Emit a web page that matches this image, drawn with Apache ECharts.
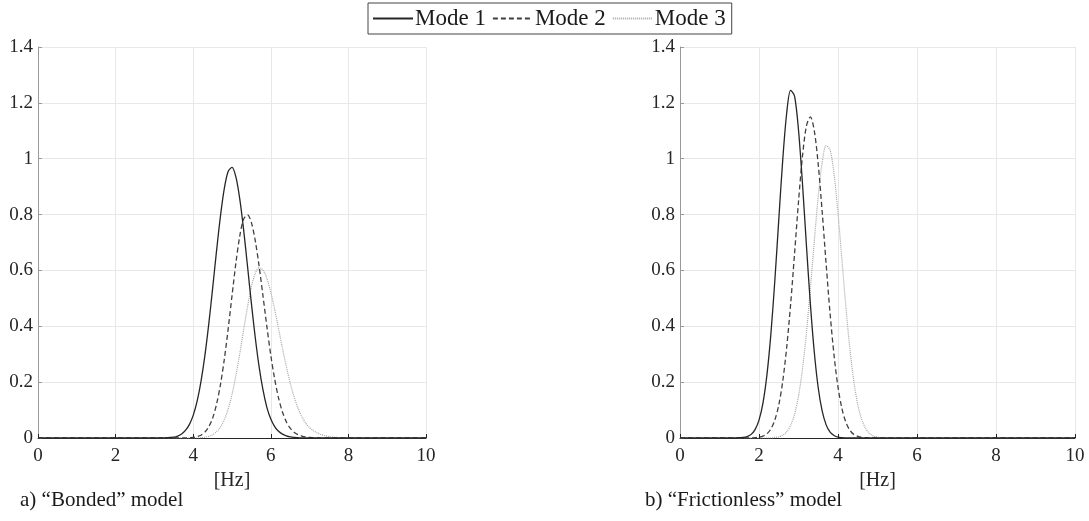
<!DOCTYPE html>
<html>
<head>
<meta charset="utf-8">
<title>Mode spectra</title>
<script src="https://cdn.jsdelivr.net/npm/echarts@6/dist/echarts.min.js"></script>
<style>
  html, body { margin: 0; padding: 0; background: #fff; }
  #chart { width: 1089px; height: 521px; }
</style>
</head>
<body>
<div id="chart"></div>
<script>
// values: [frequency Hz, amplitude]
const modeNames = ['Mode 1', 'Mode 2', 'Mode 3']
const xTicks = [0, 2, 4, 6, 8, 10]
const yTicks = [0, 0.2, 0.4, 0.6, 0.8, 1, 1.2, 1.4]
const captions = ['a) \u201cBonded\u201d model', 'b) \u201cFrictionless\u201d model']

const bondedMode1 = [[0, 0], [3.2, 0], [3.3, 0.001], [3.4, 0.002], [3.5, 0.003], [3.6, 0.007], [3.7, 0.014], [3.8, 0.027],
  [3.9, 0.048], [4.0, 0.081], [4.1, 0.131], [4.2, 0.202], [4.3, 0.294], [4.4, 0.407], [4.5, 0.535], [4.6, 0.668],
  [4.7, 0.792], [4.8, 0.892], [4.9, 0.954], [5.0, 0.969], [5.1, 0.935], [5.2, 0.856], [5.3, 0.745], [5.4, 0.615],
  [5.5, 0.482], [5.6, 0.359], [5.7, 0.254], [5.8, 0.171], [5.9, 0.109], [6.0, 0.068], [6.1, 0.041], [6.2, 0.024],
  [6.3, 0.014], [6.4, 0.008], [6.5, 0.004], [6.6, 0.002], [6.7, 0.001], [6.8, 0], [10, 0]]
const bondedMode2 = [[0, 0], [3.8, 0], [3.9, 0.001], [4.0, 0.002], [4.1, 0.005], [4.2, 0.010], [4.3, 0.021], [4.4, 0.040],
  [4.5, 0.071], [4.6, 0.120], [4.7, 0.189], [4.8, 0.280], [4.9, 0.389], [5.0, 0.509], [5.1, 0.626], [5.2, 0.723],
  [5.3, 0.784], [5.4, 0.799], [5.5, 0.771], [5.6, 0.706], [5.7, 0.614], [5.8, 0.507], [5.9, 0.398], [6.0, 0.296],
  [6.1, 0.211], [6.2, 0.143], [6.3, 0.093], [6.4, 0.058], [6.5, 0.035], [6.6, 0.021], [6.7, 0.012], [6.8, 0.007],
  [6.9, 0.004], [7.0, 0.002], [7.1, 0.001], [7.2, 0], [10, 0]]
const bondedMode3 = [[0, 0], [4.1, 0], [4.2, 0.001], [4.3, 0.003], [4.4, 0.006], [4.5, 0.012], [4.6, 0.022], [4.7, 0.039],
  [4.8, 0.065], [4.9, 0.103], [5.0, 0.156], [5.1, 0.223], [5.2, 0.302], [5.3, 0.387], [5.4, 0.470], [5.5, 0.541],
  [5.6, 0.590], [5.7, 0.610], [5.8, 0.601], [5.9, 0.571], [6.0, 0.522], [6.1, 0.460], [6.2, 0.391], [6.3, 0.322],
  [6.4, 0.256], [6.5, 0.197], [6.6, 0.147], [6.7, 0.107], [6.8, 0.076], [6.9, 0.053], [7.0, 0.037], [7.1, 0.026],
  [7.2, 0.018], [7.3, 0.012], [7.4, 0.008], [7.5, 0.005], [7.6, 0.003], [7.7, 0.002], [7.8, 0.001], [7.9, 0], [10, 0]]

const frictionlessMode1 = [[0, 0], [1.4, 0], [1.5, 0.001], [1.6, 0.002], [1.7, 0.005], [1.8, 0.013], [1.9, 0.030],
  [2.0, 0.064], [2.1, 0.125], [2.2, 0.225], [2.3, 0.371], [2.4, 0.562], [2.5, 0.780], [2.6, 0.994], [2.7, 1.162],
  [2.8, 1.245], [2.9, 1.224], [3.0, 1.103], [3.1, 0.912], [3.2, 0.691], [3.3, 0.481], [3.4, 0.307], [3.5, 0.179],
  [3.6, 0.096], [3.7, 0.047], [3.8, 0.021], [3.9, 0.009], [4.0, 0.003], [4.1, 0.001], [4.2, 0], [10, 0]]
const frictionlessMode2 = [[0, 0], [1.8, 0], [1.9, 0.001], [2.0, 0.003], [2.1, 0.007], [2.2, 0.015], [2.3, 0.032],
  [2.4, 0.064], [2.5, 0.118], [2.6, 0.202], [2.7, 0.323], [2.8, 0.478], [2.9, 0.660], [3.0, 0.846], [3.1, 1.008],
  [3.2, 1.117], [3.3, 1.150], [3.4, 1.100], [3.5, 0.979], [3.6, 0.809], [3.7, 0.622], [3.8, 0.445], [3.9, 0.296],
  [4.0, 0.182], [4.1, 0.105], [4.2, 0.056], [4.3, 0.028], [4.4, 0.013], [4.5, 0.006], [4.6, 0.002], [4.7, 0.001],
  [4.8, 0], [10, 0]]
const frictionlessMode3 = [[0, 0], [2.3, 0], [2.4, 0.002], [2.5, 0.004], [2.6, 0.010], [2.7, 0.022], [2.8, 0.045],
  [2.9, 0.085], [3.0, 0.150], [3.1, 0.246], [3.2, 0.376], [3.3, 0.534], [3.4, 0.705], [3.5, 0.866], [3.6, 0.987],
  [3.7, 1.047], [3.8, 1.031], [3.9, 0.945], [4.0, 0.805], [4.1, 0.637], [4.2, 0.469], [4.3, 0.320], [4.4, 0.204],
  [4.5, 0.120], [4.6, 0.066], [4.7, 0.034], [4.8, 0.016], [4.9, 0.007], [5.0, 0.003], [5.1, 0.001], [5.2, 0], [10, 0]]

const FONT = 'Liberation Serif'
const lineStyles = [
  { color: '#262626', width: 1.3, type: 'solid' },
  { color: '#404040', width: 1.3, type: [5, 3] },
  { color: '#a6a6a6', width: 1.2, type: [1, 1] },
]

const chart = echarts.init(document.getElementById('chart'), null, { renderer: 'canvas' })

const grids = [
  { left: 38, top: 47, width: 388, height: 391 },
  { left: 680, top: 47, width: 395, height: 391 },
]

// tick labels go through rich text so the serif face is kept
const tickRich = { t: { fontFamily: FONT, fontSize: 19, color: '#262626' } }
const tickText = v => '{t|' + parseFloat(v.toFixed(1)) + '}'

const xAxes = grids.map((g, i) => ({
  type: 'value', gridIndex: i, min: xTicks[0], max: xTicks[xTicks.length - 1], interval: 2,
  name: '[Hz]', nameLocation: 'middle', nameGap: 31,
  nameTextStyle: { fontFamily: FONT, fontSize: 20, color: '#262626' },
  axisLine: { show: true, lineStyle: { color: '#262626', width: 1 } },
  axisTick: { show: true, inside: true, length: 4, lineStyle: { color: '#262626' } },
  axisLabel: { fontFamily: FONT, fontSize: 19, color: '#262626', margin: 9, formatter: tickText, rich: tickRich },
  splitLine: { show: true, lineStyle: { color: '#e8e8e8', width: 1 } },
}))

const yAxes = grids.map((g, i) => ({
  type: 'value', gridIndex: i, min: yTicks[0], max: yTicks[yTicks.length - 1], interval: 0.2,
  axisLine: { show: true, lineStyle: { color: '#999', width: 1 } },
  axisTick: { show: true, inside: true, length: 4, lineStyle: { color: '#999' } },
  axisLabel: { fontFamily: FONT, fontSize: 19, color: '#262626', margin: 5, formatter: tickText, rich: tickRich },
  splitLine: { show: true, lineStyle: { color: '#e8e8e8', width: 1 } },
}))

const panels = [
  [bondedMode1, bondedMode2, bondedMode3],
  [frictionlessMode1, frictionlessMode2, frictionlessMode3],
]

const series = []
panels.forEach((curves, p) => {
  curves.forEach((data, m) => {
    series.push({
      name: modeNames[m],
      type: 'line',
      xAxisIndex: p,
      yAxisIndex: p,
      data: data,
      smooth: 0.3,
      showSymbol: false,
      symbol: 'none',
      lineStyle: lineStyles[m],
      itemStyle: { color: lineStyles[m].color },
      z: 3 - m,
    })
  })
})

chart.setOption({
  animation: false,
  backgroundColor: '#fff',
  textStyle: { fontFamily: FONT },
  grid: grids,
  xAxis: xAxes,
  yAxis: yAxes,
  legend: {
    data: modeNames,
    left: 368, top: 3,
    padding: [4, 6, 4, 4],
    itemGap: 6,
    itemWidth: 40,
    itemHeight: 14,
    borderColor: '#444',
    borderWidth: 1,
    backgroundColor: '#fff',
    itemStyle: { opacity: 0 },
    textStyle: { fontFamily: FONT, fontSize: 23, color: '#1a1a1a', padding: [0, 0, 0, -3] },
  },
  graphic: [
    { type: 'text', left: 20, top: 490, style: { text: captions[0], font: '21px ' + FONT, fill: '#1a1a1a' } },
    { type: 'text', left: 645, top: 490, style: { text: captions[1], font: '21px ' + FONT, fill: '#1a1a1a' } },
  ],
  series: series,
})

window.addEventListener('resize', () => chart.resize())
</script>
</body>
</html>
